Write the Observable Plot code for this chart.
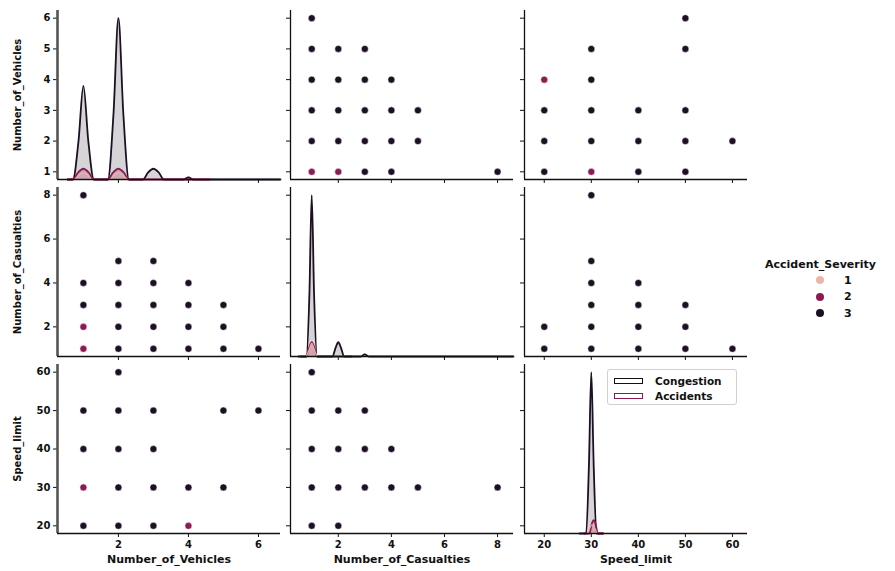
<!DOCTYPE html>
<html><head><meta charset="utf-8">
<script src="https://cdn.jsdelivr.net/npm/d3@7"></script>
<script src="https://cdn.jsdelivr.net/npm/@observablehq/plot@0.6"></script>
<style>
html,body{margin:0;padding:0;background:#fff;}
#fig{position:relative;width:895px;height:571px;overflow:hidden;font-family:"DejaVu Sans",sans-serif;background:#fff;}
#fig svg{position:absolute;overflow:visible;}
.lg{position:absolute;font-family:"DejaVu Sans",sans-serif;font-weight:bold;color:#111;white-space:nowrap;}
</style></head><body><div id="fig"></div>
<script>
// ---------- data ----------
const severityLevels = [1, 2, 3];
const severityColors = ["#efb4a8", "#8c1b52", "#1c1022"];
const severityTitle = "Accident_Severity";
const diagLegendLabels = ["Congestion", "Accidents"];
const diagLegendColors = ["#111111", "#8c1b52"];

const varLabels = ["Number_of_Vehicles", "Number_of_Casualties", "Speed_limit"];
const vehicleYTicks = [1, 2, 3, 4, 5, 6];
const vehicleXTicks = [2, 4, 6];
const casualtyTicks = [2, 4, 6, 8];
const speedTicks = [20, 30, 40, 50, 60];

// pairs: Vehicles x Casualties
const vcVehicles   = [1,1,1,1,1, 2,2,2,2,2, 3,3,3,3,3, 4,4,4,4, 5,5,5, 6];
const vcCasualties = [1,2,3,4,8, 1,2,3,4,5, 1,2,3,4,5, 1,2,3,4, 1,2,3, 1];
const vcSeverity   = [2,2,3,3,3, 3,3,3,3,3, 3,3,3,3,3, 3,3,3,3, 3,3,3, 3];
// pairs: Vehicles x Speed_limit
const vsVehicles = [1,1,1,1, 2,2,2,2,2, 3,3,3,3, 4,4, 5,5, 6];
const vsSpeed    = [20,30,40,50, 20,30,40,50,60, 20,30,40,50, 20,30, 30,50, 50];
const vsSeverity = [3,2,3,3, 3,3,3,3,3, 3,3,3,3, 2,3, 3,3, 3];
// pairs: Casualties x Speed_limit
const csCasualties = [1,1,1,1,1, 2,2,2,2, 3,3,3, 4,4, 5, 8];
const csSpeed      = [20,30,40,50,60, 20,30,40,50, 30,40,50, 30,40, 30, 30];
const csSeverity   = [3,3,3,3,3, 3,3,3,3, 3,3,3, 3,3, 3, 3];

// diagonal density curves in the row's axis units: [x, height]
const kdeVehicles = {
  3: [[0.55,0.75],[0.7,0.75],[0.86,2.0],[1.0,3.8],[1.14,2.0],[1.3,0.75],[1.7,0.75],[1.86,2.9],[2.0,6.0],[2.14,2.9],[2.3,0.75],[2.7,0.75],[2.85,0.98],[3.0,1.1],[3.15,0.98],[3.3,0.75],[3.85,0.75],[4.0,0.82],[4.15,0.75],[6.63,0.75]],
  2: [[0.55,0.75],[0.7,0.75],[0.85,0.98],[1.0,1.1],[1.15,0.98],[1.3,0.75],[1.7,0.75],[1.85,0.98],[2.0,1.1],[2.15,0.98],[2.3,0.75],[4.6,0.75]],
  1: [[0.75,0.75],[0.88,0.9],[1.0,0.97],[1.12,0.9],[1.25,0.75],[1.75,0.75],[1.88,0.9],[2.0,0.97],[2.12,0.9],[2.25,0.75]]
};
const kdeCasualties = {
  3: [[0.5,0.65],[0.8,0.65],[0.91,3.4],[1.0,8.0],[1.09,3.4],[1.2,0.65],[1.78,0.65],[1.9,1.05],[2.0,1.3],[2.1,1.05],[2.22,0.65],[2.85,0.65],[3.0,0.75],[3.15,0.65],[8.6,0.65]],
  2: [[0.6,0.65],[0.8,0.65],[0.9,1.05],[1.0,1.3],[1.1,1.05],[1.2,0.65],[2.5,0.65]],
  1: [[0.8,0.65],[0.9,0.95],[1.0,1.25],[1.1,0.95],[1.2,0.65]]
};
const kdeSpeed = {
  3: [[27.5,18],[28.9,18],[29.5,36],[30.0,60],[30.5,36],[31.1,18],[32.5,18]],
  2: [[28.5,18],[29.6,18],[30.1,20.5],[30.5,21.5],[30.9,20.5],[31.4,18],[32.5,18]],
  1: [[29.2,18],[29.7,19.5],[30.2,20.3],[30.7,19.5],[31.2,18]]
};

// ---------- scale setup ----------
const vars = [
  {label: varLabels[0], xDomain: [0.26, 6.63], yDomain: [0.75, 6.25], xTicks: vehicleXTicks, yTicks: vehicleYTicks},
  {label: varLabels[1], xDomain: [0.2, 8.6],   yDomain: [0.65, 8.35], xTicks: casualtyTicks, yTicks: casualtyTicks},
  {label: varLabels[2], xDomain: [15.8, 63.2], yDomain: [18, 62],     xTicks: speedTicks,    yTicks: speedTicks}
];
const colLeft = [57, 290, 524], rowTop = [10, 187, 364], PW = 223, PH = 169;
const ML = 48, MR = 6, MT = 6, MB = 36;
const fig = document.getElementById("fig");

function toRows(xs, ys, ss) { return xs.map((x, i) => ({x, y: ys[i], s: ss[i]})); }
const pairData = {
  "0-1": toRows(vcCasualties, vcVehicles, vcSeverity),
  "1-0": toRows(vcVehicles, vcCasualties, vcSeverity),
  "0-2": toRows(vsSpeed, vsVehicles, vsSeverity),
  "2-0": toRows(vsVehicles, vsSpeed, vsSeverity),
  "1-2": toRows(csSpeed, csCasualties, csSeverity),
  "2-1": toRows(csCasualties, csSpeed, csSeverity)
};
const kdes = [kdeVehicles, kdeCasualties, kdeSpeed];

function panel(r, c) {
  const rv = vars[r], cv = vars[c];
  const marks = [];
  if (r === c) {
    const k = kdes[r], base = rv.yDomain[0];
    for (const s of [3, 2, 1]) {
      marks.push(Plot.areaY(k[s], {x: d => d[0], y1: d => base, y2: d => d[1], fill: severityColors[s - 1], fillOpacity: s === 3 ? 0.18 : 0.25, curve: "monotone-x"}));
    }
    for (const s of [3, 2, 1]) {
      marks.push(Plot.line(k[s], {x: d => d[0], y: d => d[1], stroke: severityColors[s - 1], strokeWidth: s === 1 ? 1.2 : 1.8, curve: "monotone-x"}));
    }
  } else {
    marks.push(Plot.dot(pairData[r + "-" + c], {x: "x", y: "y", fill: "s", r: 3.5, stroke: "white", strokeWidth: 0.5}));
  }
  // spines
  marks.push(Plot.ruleX([cv.xDomain[0]], {stroke: c === 0 ? "#555" : "#111", strokeWidth: c === 0 ? 2.6 : 1.3}));
  marks.push(Plot.ruleY([rv.yDomain[0]], {stroke: "#111", strokeWidth: 1.3}));
  if (c === 0) marks.push(Plot.text([rv.label], {text: d => d, frameAnchor: "left", textAnchor: "middle", dx: -40, rotate: -90, fontSize: 10, fontWeight: "bold", fill: "#111"}));
  if (r === 2) marks.push(Plot.text([cv.label], {text: d => d, frameAnchor: "bottom", textAnchor: "middle", dy: 29, fontSize: 11, fontWeight: "bold", fill: "#111"}));
  const svg = Plot.plot({
    width: ML + PW + MR, height: MT + PH + MB,
    marginLeft: ML, marginRight: MR, marginTop: MT, marginBottom: MB,
    style: {background: "none", fontFamily: "DejaVu Sans", fontSize: "10px", fontWeight: "bold", color: "#111", overflow: "visible"},
    x: {domain: cv.xDomain, ticks: cv.xTicks, tickSize: 4, tickPadding: 3, tickFormat: r === 2 ? (d => String(d)) : (() => ""), label: null, line: false},
    y: {domain: rv.yDomain, ticks: rv.yTicks, tickSize: 4, tickPadding: 3, tickFormat: c === 0 ? (d => String(d)) : (() => ""), label: null, line: false},
    color: {domain: severityLevels, range: severityColors},
    marks
  });
  svg.style.left = (colLeft[c] - ML) + "px";
  svg.style.top = (rowTop[r] - MT) + "px";
  fig.appendChild(svg);
}
for (let r = 0; r < 3; r++) for (let c = 0; c < 3; c++) panel(r, c);

// severity legend
const lg = document.createElement("div");
lg.className = "lg";
lg.style.cssText = "left:765px;top:258px;font-size:11px;";
lg.innerHTML = `<div style="margin-bottom:1px">${severityTitle}</div>` +
  severityLevels.map((s, i) => `<div style="height:16.5px;display:flex;align-items:center;"><span style="display:inline-block;width:8px;height:8px;border-radius:50%;background:${severityColors[i]};margin-left:51px;margin-right:20px"></span>${s}</div>`).join("");
fig.appendChild(lg);

// diagonal legend (bottom-right panel)
const lg2 = document.createElement("div");
lg2.className = "lg";
lg2.style.cssText = "left:607px;top:369px;width:128px;height:34px;border:1px solid #d0d0d0;border-radius:3px;background:rgba(255,255,255,0.85);font-size:10.5px;";
lg2.innerHTML = diagLegendLabels.map((t, i) => `<div style="position:absolute;left:6px;top:${4 + i * 15}px;display:flex;align-items:center;height:13px;"><span style="display:inline-block;width:27px;height:4px;border:1.6px solid ${diagLegendColors[i]};background:#fff;margin-right:12px"></span>${t}</div>`).join("");
fig.appendChild(lg2);
</script></body></html>
